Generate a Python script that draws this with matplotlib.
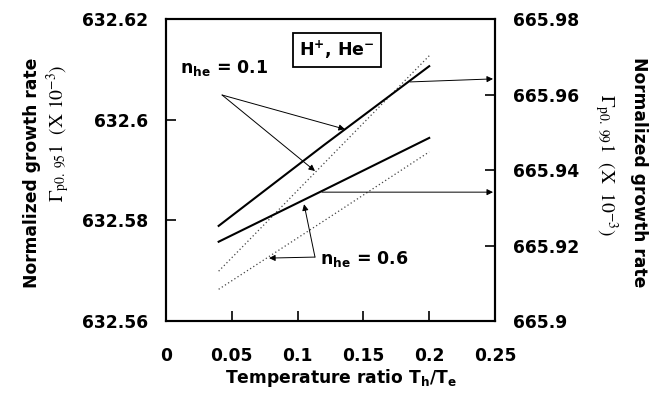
import matplotlib
matplotlib.use('Agg')
import matplotlib.pyplot as plt

# data
temp_ratio = [0.04, 0.12, 0.2]
# solid lines -> right axis (Gamma_p0.99)
g99_nhe01 = [665.9252, 665.9466, 665.9675]
g99_nhe06 = [665.9210, 665.9347, 665.9485]
# dotted lines -> left axis (Gamma_p0.95)
g95_nhe01 = [632.5699, 632.5913, 632.6127]
g95_nhe06 = [632.5663, 632.5799, 632.5936]

x_ticks = [0, 0.05, 0.1, 0.15, 0.2, 0.25]
x_labels = ['0', '0.05', '0.1', '0.15', '0.2', '0.25']
left_ticks = [632.56, 632.58, 632.6, 632.62]
left_labels = ['632.56', '632.58', '632.6', '632.62']
right_ticks = [665.9, 665.92, 665.94, 665.96, 665.98]
right_labels = ['665.9', '665.92', '665.94', '665.96', '665.98']

plt.rcParams['font.family'] = ['DejaVu Sans']
plt.rcParams['mathtext.fontset'] = 'dejavusans'

fig = plt.figure(figsize=(6.58, 4.07), dpi=100)
ax = fig.add_axes([0.2523, 0.2113, 0.5, 0.742])
ax2 = ax.twinx()

ax.plot(temp_ratio, g95_nhe01, color='#444444', lw=0.9, linestyle=(0, (1, 2)))
ax.plot(temp_ratio, g95_nhe06, color='#444444', lw=0.9, linestyle=(0, (1, 2)))
ax2.plot(temp_ratio, g99_nhe01, color='black', lw=1.5)
ax2.plot(temp_ratio, g99_nhe06, color='black', lw=1.5)

ax.set_xlim(0, 0.25)
ax.set_ylim(632.56, 632.62)
ax2.set_ylim(665.9, 665.98)

ax.set_xticks(x_ticks, x_labels, fontweight='bold')
ax.set_yticks(left_ticks, left_labels, fontweight='bold')
ax2.set_yticks(right_ticks, right_labels, fontweight='bold')

ax.tick_params(axis='x', direction='in', length=7, width=1.2, pad=19, labelsize=12.3)
ax.tick_params(axis='y', direction='in', length=7, width=1.2, pad=13, labelsize=12.3, right=False)
ax2.tick_params(axis='y', direction='in', length=7, width=1.2, pad=13, labelsize=12.3)
for a in (ax, ax2):
    for s in a.spines.values():
        s.set_linewidth(1.5)

fig.text(0.518, 0.071, r'Temperature ratio T$_\mathbf{h}$/T$_\mathbf{e}$',
         ha='center', va='center', fontsize=12.3, fontweight='bold')

# left axis label (two lines)
fig.text(0.049, 0.575, 'Normalized growth rate', rotation=90,
         ha='center', va='center', fontsize=12.3, fontweight='bold')
fig.text(0.088, 0.672, r'$\Gamma_{\rm p0.\ 95}{\rm 1}\ \ ({\rm X}\ 10^{-3})$',
         rotation=90, ha='center', va='center', fontsize=14,
         math_fontfamily='stix')
# right axis label (two lines)
fig.text(0.971, 0.578, 'Normalized growth rate', rotation=270,
         ha='center', va='center', fontsize=12.3, fontweight='bold')
fig.text(0.921, 0.595, r'$\Gamma_{\rm p0.\ 99}{\rm 1}\ \ ({\rm X}\ \ 10^{-3})$',
         rotation=270, ha='center', va='center', fontsize=14,
         math_fontfamily='stix')

ax.text(0.13, 632.6138, r'H$^\mathbf{+}$, He$^\mathbf{-}$', ha='center', va='center',
        fontsize=12.5, fontweight='bold',
        bbox=dict(boxstyle='square,pad=0.35', fc='white', ec='black', lw=1.3))

arrow = dict(arrowstyle='-|>', color='black', lw=0.7, mutation_scale=9,
             shrinkA=0, shrinkB=0)

ax.text(0.0106, 632.6103, r'n$_\mathbf{he}$ = 0.1', ha='left', va='center',
        fontsize=12.5, fontweight='bold')
ax.annotate('', xy=(0.136, 632.5981), xytext=(0.0426, 632.6049), arrowprops=arrow)
ax.annotate('', xy=(0.1132, 632.5898), xytext=(0.0426, 632.6049), arrowprops=arrow)
ax.annotate('', xy=(0.2485, 632.6081), xytext=(0.1854, 632.6075), arrowprops=arrow,
            annotation_clip=False)
ax.annotate('', xy=(0.2485, 632.5856), xytext=(0.1185, 632.5856), arrowprops=arrow,
            annotation_clip=False)

ax.text(0.117, 632.5723, r'n$_\mathbf{he}$ = 0.6', ha='left', va='center',
        fontsize=12.5, fontweight='bold')
ax.annotate('', xy=(0.1049, 632.5832), xytext=(0.1132, 632.5727), arrowprops=arrow)
ax.annotate('', xy=(0.0783, 632.5725), xytext=(0.1132, 632.5727), arrowprops=arrow)

fig.savefig('out.png', dpi=100)
plt.close(fig)
